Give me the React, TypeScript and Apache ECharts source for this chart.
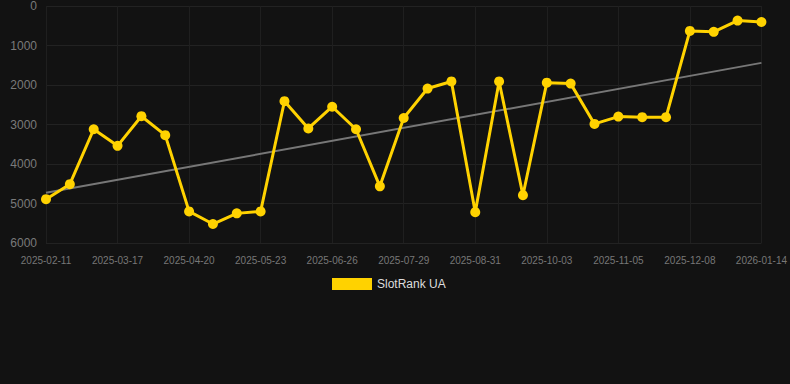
import React, { useEffect, useRef } from "react";
import * as echarts from "echarts";

const categories = [
  "2025-02-11", "2025-02-22", "2025-03-06", "2025-03-17", "2025-03-28", "2025-04-09",
  "2025-04-20", "2025-05-01", "2025-05-12", "2025-05-23", "2025-06-03", "2025-06-15",
  "2025-06-26", "2025-07-07", "2025-07-18", "2025-07-29", "2025-08-09", "2025-08-20",
  "2025-08-31", "2025-09-11", "2025-09-22", "2025-10-03", "2025-10-14", "2025-10-25",
  "2025-11-05", "2025-11-16", "2025-11-27", "2025-12-08", "2025-12-20", "2026-01-02",
  "2026-01-14",
];

const rankValues = [
  4890, 4510, 3120, 3540, 2790, 3270, 5200, 5520, 5250, 5200, 2410, 3100,
  2550, 3120, 4565, 2835, 2090, 1910, 5220, 1910, 4790, 1940, 1965, 2985,
  2800, 2815, 2815, 630, 655, 370, 405,
];

const trendStart = 4730;
const trendEnd = 1440;

const yTicks = { min: 0, max: 6000, interval: 1000 };

export default function App() {
  const ref = useRef<HTMLDivElement>(null);
  useEffect(() => {
    if (!ref.current) return;
    const chart = echarts.init(ref.current, null, { renderer: "svg" });
    const trendData = categories.map((_, i) =>
      i === 0 ? trendStart : i === categories.length - 1 ? trendEnd : null
    );
    chart.setOption({
      animation: false,
      backgroundColor: "#121212",
      grid: { left: 46, right: 28, top: 6, bottom: 141 },
      legend: {
        data: [{ name: "SlotRank UA", icon: "rect" }],
        top: 273,
        left: 327,
        itemWidth: 40,
        itemHeight: 12,
        itemGap: 10,
        textStyle: { color: "#dddddd", fontSize: 12, fontFamily: "Liberation Sans, Arial, sans-serif" },
      },
      xAxis: {
        type: "category",
        data: categories,
        boundaryGap: false,
        axisLine: { show: false },
        axisTick: { show: false },
        axisLabel: {
          interval: 2,
          color: "#777777",
          fontSize: 10,
          margin: 12,
          fontFamily: "Liberation Sans, Arial, sans-serif",
        },
        splitLine: { show: true, interval: 2, lineStyle: { color: "#1f1f1f", width: 1 } },
      },
      yAxis: {
        type: "value",
        inverse: true,
        min: yTicks.min,
        max: yTicks.max,
        interval: yTicks.interval,
        axisLine: { show: false },
        axisTick: { show: false },
        axisLabel: {
          color: "#7a7a7a",
          fontSize: 12,
          margin: 9,
          formatter: (v: number) => String(v),
          fontFamily: "Liberation Sans, Arial, sans-serif",
        },
        splitLine: { lineStyle: { color: "#222222", width: 1 } },
      },
      series: [
        {
          name: "SlotRank UA",
          type: "line",
          data: rankValues,
          symbol: "circle",
          symbolSize: 10,
          lineStyle: { color: "#FFD200", width: 3 },
          itemStyle: { color: "#FFD200" },
          z: 3,
        },
        {
          name: "Trend",
          type: "line",
          data: trendData,
          connectNulls: true,
          symbol: "none",
          lineStyle: { color: "#777777", width: 2 },
          z: 2,
        },
      ],
    });
    return () => chart.dispose();
  }, []);
  return <div ref={ref} style={{ width: 790, height: 384, position: "absolute", left: 0, top: 0 }} />;
}
